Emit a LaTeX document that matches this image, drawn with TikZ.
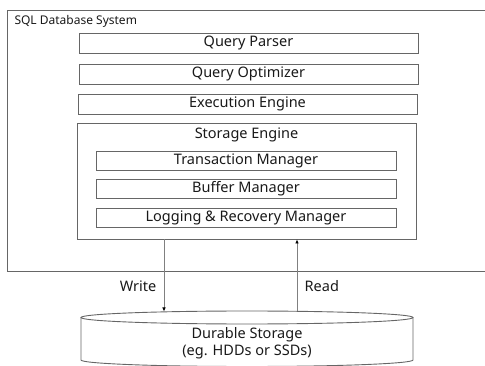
\documentclass[tikz,border=0pt]{standalone}
\usepackage{fontspec}
\setmainfont{Noto Sans}
\usetikzlibrary{positioning,arrows.meta}

\tikzset{
  layer/.style={draw=black!60, line width=0.9pt, minimum width=339pt, minimum height=20pt, inner sep=0pt, font=\fontsize{14.5}{16}\selectfont},
  sublayer/.style={layer, minimum width=300pt, minimum height=19pt},
  flow/.style={draw=black!50, line width=0.7pt, -{Latex[length=4pt,width=3.5pt,black]}},
  caption/.style={font=\fontsize{14.5}{17}\selectfont},
}

\begin{document}
\begin{tikzpicture}[x=1pt,y=-1pt,text=black!90]
\useasboundingbox (0,0) rectangle (485,366);

% system frame, open to the right
\node[draw=black!60, line width=0.9pt, minimum width=488pt, minimum height=261pt, inner sep=0pt] (system) at (251,140.5) {};
\node[anchor=west, font=\fontsize{12}{14}\selectfont] (title) at (11,21) {SQL Database System};

\node[layer] (parser) at (248.5,43) {Query Parser};
\node[layer] (optimizer) at (248.5,74) {Query Optimizer};
\node[layer] (executor) at (247.5,104) {Execution Engine};

% storage engine and its parts
\node[layer, minimum height=116pt] (storage) at (246.5,181) {};
\node[caption] (storagelabel) at (246.5,135) {Storage Engine};
\node[sublayer] (txn) at (246,160.5) {Transaction Manager};
\node[sublayer] (buffer) at (246,189) {Buffer Manager};
\node[sublayer] (logging) at (246,218) {Logging \& Recovery Manager};

% disk
\draw[draw=black!60, line width=0.9pt] (81,317.5) -- (81,360) arc[start angle=180, end angle=0, x radius=166, y radius=6.5] -- (413,317.5);
\draw[draw=black!60, line width=0.9pt] (247,317.5) ellipse[x radius=166, y radius=6.5];
\node[caption, align=center] (disk) at (247,343.5) {Durable Storage\\(eg. HDDs or SSDs)};
\coordinate (diskw) at (164,311.5);
\coordinate (diskr) at (297,311);

\draw[flow] (storage.south -| diskw) -- node[caption, pos=.65, anchor=east, xshift=-4pt, name=wlabel] {Write} (diskw);
\draw[flow] (diskr) -- node[caption, pos=.35, anchor=west, xshift=4pt, name=rlabel] {Read} (storage.south -| diskr);
\end{tikzpicture}
\end{document}
